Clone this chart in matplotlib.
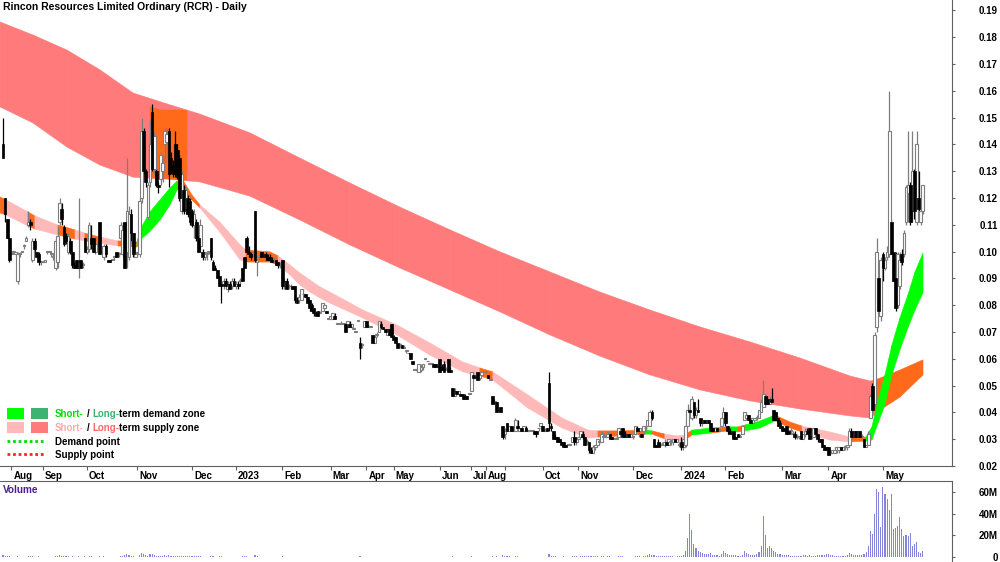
import numpy as np
import matplotlib
matplotlib.use("Agg")
import matplotlib.pyplot as plt
from matplotlib.patches import Rectangle, Polygon
from matplotlib.lines import Line2D
import matplotlib.transforms as mtransforms

# ---------------- data (prices in units of 0.001 AUD) ----------------
open_ = [
 140,120,112,105,99,100,99,89,99,100, 102,104,110,111,97,104,100,99,96,96,
 96,100,100,99,98,94,96,111,116,109, 106,100,104,100,95,97,94,97,95,105,
 100,101,105,105,100,103,111,100,98,102, 97,97,97,98,100,99,105,99,111,100,
 98,114,107,98,99,99,120,145,130,113, 126,152,131,130,125,127,130,140,141,145,
 135,132,140,138,135,115,123,116,120,119, 115,110,111,105,102,100,98,99,100,105,
 96,94,93,91,88,88,89,86,88,87, 89,87,88,89,94,98,105,100,99,99,
 115,96,98,100,99,99,98,98,97,97, 97,96,95,97,87,89,87,87,87,87,
 82,82,82,84,84,83,82,80,79,77, 78,77,78,79,78,75,75,75,76,73,
 73,73,73,73,72,73,72,71,70,74, 66,65,72,74,72,72,69,66,69,70,
 73,72,71,69,71,73,68,68,66,65, 65,64,63,62,62,59,56,56,55,56,
 57,60,59,58,58,58,58,57,60,57, 58,56,60,56,49,46,48,47,47,47,
 46,46,47,48,54,53,55,53,54,55, 55,54,52,46,44,44,41,42,35,32,
 36,33,35,33,33,35,33,34,33,34, 33,33,33,33,33,34,35,35,33,34,
 51,35,33,31,31,30,29,29,28,28, 28,29,31,29,30,31,32,31,29,29,
 26,25,27,28,29,29,31,31,31,32, 31,30,30,31,33,34,32,31,32,31,
 31,32,34,33,32,33,34,35,35,40, 30,28,29,28,28,28,29,28,29,29,
 30,29,28,29,27,28,35,41,38,44, 39,41,38,36,37,36,37,36,34,33,
 34,33,35,38,40,35,33,32,33,31, 32,31,32,37,38,39,37,36,37,38,
 38,40,42,46,45,43,45,41,40,38, 36,35,34,35,33,33,32,32,31,31,
 33,30,32,33,34,31,31,34,32,30, 30,28,27,27,25,25,25,26,26,27,
 26,27,27,28,33,31,33,31,33,31, 30,27,28,38,50,43,72,90,76,99,
 94,98,99,111,100,90,80,87,99,99, 111,122,125,115,130,111,120,111,115]
high = [
 150,120,112,105,99,100,100,100,100,100, 103,106,115,112,105,105,100,100,96,96,
 97,100,100,100,99,105,109,120,118,110, 107,107,105,100,96,97,120,97,96,105,
 102,111,110,105,104,104,111,101,103,103, 97,97,97,98,100,100,111,111,111,135,
 117,116,107,100,100,120,150,146,131,126, 149,155,145,131,126,137,136,146,146,146,
 137,134,145,140,136,130,125,124,121,120, 116,116,112,106,112,101,100,100,100,105,
 97,95,93,91,88,90,90,89,89,90, 90,89,89,90,94,98,106,102,100,100,
 115,97,99,100,100,100,99,99,98,98, 97,96,96,97,90,90,88,88,87,87,
 83,84,86,86,84,83,82,81,79,78, 78,78,81,81,78,75,76,77,77,73,
 73,74,73,73,74,74,73,71,70,74, 68,66,74,74,73,72,69,69,70,74,
 74,72,71,71,71,73,69,68,66,66, 65,65,63,62,62,59,56,56,58,58,
 58,60,59,58,58,58,58,57,60,58, 59,57,60,57,49,49,48,48,47,47,
 47,46,47,55,55,54,55,55,55,55, 55,54,52,46,45,44,42,42,35,34,
 36,35,35,34,38,37,34,34,35,35, 33,33,33,33,33,34,36,35,34,34,
 55,36,33,32,31,30,29,29,28,28, 28,31,33,31,31,33,33,31,30,29,
 27,28,28,30,30,33,32,31,33,32, 31,30,31,34,34,34,33,32,32,32,
 31,35,35,34,32,35,35,37,41,41, 30,28,30,29,29,30,30,30,30,30,
 30,30,29,31,30,37,43,42,46,44, 42,45,38,37,37,37,37,36,34,34,
 34,34,38,42,40,35,34,33,33,31, 32,32,35,40,40,39,38,38,38,39,
 41,45,52,47,46,46,49,41,40,38, 37,35,34,35,33,34,33,33,32,31,
 33,32,34,34,34,32,34,34,32,30, 30,28,27,27,26,26,27,27,27,27,
 27,28,28,34,34,33,33,33,33,32, 30,28,33,47,51,70,105,92,98,100,
 98,102,160,112,100,100,100,100,101,108, 125,145,126,145,131,145,130,115,125]
low = [
 135,111,105,96,99,99,99,88,98,100, 101,104,109,108,96,100,98,95,95,96,
 96,99,100,98,97,93,94,110,110,102, 103,99,99,94,94,94,90,94,94,100,
 99,100,101,100,99,102,99,99,97,98, 96,96,97,97,98,98,104,98,94,94,
 97,104,98,98,98,98,118,129,124,112, 124,130,129,124,122,125,126,133,135,124,
 129,128,128,127,119,114,114,114,113,110, 109,105,104,100,100,97,97,97,99,97,
 93,93,90,87,81,86,87,85,86,86, 87,86,86,87,89,94,100,98,97,98,
 96,91,97,98,98,97,97,97,96,96, 95,94,94,86,86,86,86,86,86,81,
 81,81,82,83,83,81,78,78,76,76, 76,77,78,78,77,75,75,75,75,73,
 73,73,73,70,72,72,72,71,70,74, 60,64,72,72,72,72,66,66,68,70,
 71,71,70,69,69,68,67,66,64,64, 64,64,62,62,60,58,56,55,55,55,
 56,60,59,58,58,57,57,57,55,56, 55,56,55,55,46,46,47,47,46,45,
 45,45,47,48,52,53,52,52,54,55, 55,53,52,43,43,40,40,40,30,30,
 33,33,33,33,33,33,33,33,33,33, 33,33,33,32,31,33,35,33,33,33,
 33,33,30,30,29,29,28,27,27,28, 28,29,28,28,30,31,30,28,28,25,
 25,25,26,28,28,29,31,31,31,30, 30,30,30,31,31,31,31,31,31,31,
 30,32,33,31,31,32,33,35,35,37, 27,27,27,27,28,27,28,28,28,28,
 29,29,27,26,26,27,35,38,37,38, 38,40,35,35,36,36,36,33,33,33,
 33,33,35,38,35,32,32,31,30,30, 31,31,32,37,38,37,36,36,37,37,
 38,40,42,42,43,43,44,37,37,35, 34,33,33,32,32,32,32,30,30,30,
 30,30,31,32,30,30,31,32,29,29, 27,26,26,24,24,25,25,25,25,26,
 26,26,26,28,30,31,31,31,31,31, 27,27,28,38,40,42,70,76,74,89,
 93,97,98,99,89,78,79,86,95,98, 110,111,110,111,112,110,115,110,114]
close = [
 135,114,105,97,99,100,100,99,99,100, 102,105,111,110,104,101,98,96,96,96,
 97,100,100,99,98,104,106,118,112,103, 104,106,100,95,94,94,96,94,95,100,
 101,110,103,100,103,103,99,100,102,99, 96,96,97,98,98,99,110,108,94,115,
 114,107,99,100,99,119,145,130,126,125, 140,131,143,125,124,136,133,145,144,129,
 130,129,129,128,120,129,115,123,114,111, 110,114,105,100,110,98,100,99,100,98,
 93,93,90,87,87,89,87,88,86,89, 87,88,87,89,89,94,100,99,98,99,
 97,97,98,98,99,98,97,97,96,97, 95,95,95,87,89,86,87,87,86,82,
 81,83,86,84,83,81,79,78,77,76, 76,77,81,80,77,75,76,77,75,73,
 73,73,73,70,74,72,73,71,70,74, 64,65,74,72,72,72,66,68,69,74,
 72,71,70,71,69,68,67,66,64,65, 64,64,63,62,60,58,56,56,58,57,
 58,60,59,58,58,57,57,57,55,56, 55,56,55,55,46,48,47,48,46,45,
 45,45,47,55,53,53,52,54,55,55, 55,53,52,43,44,40,41,40,31,33,
 33,35,33,34,37,34,34,33,35,33, 33,33,33,32,32,34,36,33,33,33,
 36,34,30,30,29,29,28,27,27,28, 28,31,29,30,31,33,31,28,29,26,
 25,27,28,30,29,32,31,31,32,30, 30,30,30,34,32,31,31,32,31,32,
 31,35,33,34,31,35,34,37,40,38, 27,27,27,28,28,29,28,30,29,30,
 29,30,28,27,30,35,41,40,45,39, 41,40,36,37,36,37,36,33,33,34,
 33,33,38,40,36,33,32,32,30,30, 31,31,35,40,39,37,36,38,38,38,
 41,44,47,43,43,45,44,37,37,35, 34,33,33,32,32,33,32,31,31,31,
 30,32,33,32,30,31,34,32,30,29, 27,26,26,24,25,26,26,27,27,26,
 27,27,28,33,31,33,31,33,31,31, 27,28,32,46,41,69,100,78,97,94,
 97,100,145,99,89,79,99,97,96,107, 124,125,111,130,115,140,116,115,125]
volume_m = [
 1.5,1.2,0.8,0.6,0.3,0.2,0.2,0.8,0.3,0.2, 0.3,0.4,0.8,0.5,0.6,0.4,0.3,0.5,0.2,0.2,
 0.2,0.3,0.2,0.3,0.2,0.9,1.0,1.5,0.8,0.6, 0.5,0.6,0.4,0.5,0.3,0.4,1.2,0.4,0.3,0.6,
 0.3,0.8,0.5,0.4,0.4,0.2,0.9,0.3,0.5,0.3, 0.2,0.2,0.1,0.2,0.3,0.2,0.8,0.9,1.5,2.5,
 2.0,1.0,0.8,0.3,0.3,2.0,3.5,2.5,1.5,1.0, 2.5,3.0,1.8,1.2,0.8,1.0,0.9,1.5,0.8,1.5,
 0.8,0.6,1.0,0.9,1.2,0.9,0.8,0.6,0.7,0.8, 0.7,0.6,0.6,0.5,0.7,0.3,0.3,0.3,0.2,0.5,
 0.5,0.3,0.4,0.5,0.6,0.3,0.3,0.3,0.2,0.3, 0.2,0.2,0.2,0.3,0.5,0.5,0.6,0.3,0.3,0.4,
 1.5,0.5,0.3,0.3,0.2,0.2,0.3,0.2,0.2,0.3, 0.2,0.2,0.2,0.6,0.4,0.3,0.2,0.2,0.2,0.4,
 0.3,0.2,0.3,0.2,0.2,0.3,0.4,0.3,0.4,0.2, 0.2,0.2,0.3,0.2,0.2,0.1,0.1,0.2,0.1,0.1,
 0.1,0.1,0.1,0.1,0.3,0.2,0.1,0.1,0.1,0.1, 0.5,0.2,0.3,0.2,0.1,0.1,0.3,0.2,0.1,0.3,
 0.2,0.1,0.1,0.2,0.2,0.3,0.2,0.2,0.2,0.2, 0.2,0.1,0.1,0.1,0.3,0.2,0.1,0.1,0.3,0.2,
 0.2,0.1,0.1,0.1,0.1,0.2,0.1,0.1,0.4,0.2, 0.3,0.1,0.3,0.2,0.6,0.3,0.2,0.2,0.2,0.3,
 0.2,0.2,0.1,0.8,0.4,0.2,0.3,0.3,0.2,0.2, 0.2,0.2,0.1,0.8,0.4,0.6,0.4,0.4,1.5,0.8,
 0.6,0.5,0.4,0.3,0.8,0.5,0.3,0.3,0.4,0.3, 0.2,0.2,0.2,0.2,0.3,0.3,0.4,0.4,0.3,0.3,
 3.0,0.8,0.8,0.5,0.4,0.4,0.4,0.5,0.3,0.2, 0.2,0.6,0.7,0.5,0.4,0.6,0.5,0.7,0.5,1.0,
 0.6,0.6,0.5,0.6,0.4,1.0,0.5,0.4,0.7,0.5, 0.4,0.3,0.3,0.8,0.6,0.6,0.4,0.4,0.3,0.3,
 0.3,0.8,0.5,0.5,0.4,0.8,0.5,1.5,3.0,2.0, 2.0,1.0,0.8,0.6,0.5,0.7,0.6,0.6,0.5,0.5,
 0.4,0.5,0.5,1.0,1.5,6.0,18,40,25,12, 8,6,5,4,3,2.5,3,4,2,1.5,
 1.5,1.2,3,6,4,3,2,1.5,2,1.5, 1.2,1.0,2,6,4,3,2,1.5,2,3,
 5,10,38,20,8,10,8,6,5,3, 3,2,2,2,1.5,1.2,1,1,1,1,
 1,1.5,1.5,1.2,1.5,1,1.2,1,1.5,1.5, 2,2,2.5,3,2,1.5,1.2,1,1,1,
 1,1,1.5,4,3,2,1.5,1.5,2,2, 3,5,10,24,21,40,63,60,28,65,
 58,54,43,58,26,27,29,37,26,19, 20,19,22,10,12,14,5,4,6]

# long-term band (day index, upper, lower in 0.001 units) and state per segment
lt_idx = [-1.4, 14.3, 30.5, 46.2, 61.9, 78.1, 93.8, 117.6, 141.4, 165.2, 189.0, 212.9,
          236.7, 260.5, 284.3, 308.1, 331.9, 355.7, 379.5, 403.3, 412.9, 415.2, 419.0, 427.1, 438.1]
lt_upper = [185.7, 180.8, 175.2, 167.8, 159.2, 155.1, 151.3, 144.3, 134.9, 125.6, 116.6, 108.1,
            99.9, 92.4, 84.9, 78.2, 71.9, 66.3, 60.3, 53.6, 51.7, 52.1, 53.2, 55.8, 59.6]
lt_lower = [154.0, 148.0, 139.0, 132.3, 127.8, 127.1, 126.0, 120.7, 111.8, 102.5, 93.9, 85.7,
            77.5, 68.9, 61.0, 54.0, 48.4, 44.3, 41.3, 38.7, 37.9, 39.0, 41.6, 45.7, 54.0]
lt_state = "SSSSSSSSSSSSSSSSSSSSSNNNN"

# short-term band
st_idx = [-1.4, 1.4, 11.9, 15.2, 26.2, 34.3, 39.0, 46.2, 54.8, 63.8, 65.2, 70.0, 74.8, 79.5,
          82.9, 85.7, 90.0, 93.8, 103.3, 112.9, 115.7, 122.4, 127.1, 131.0, 136.7, 141.4, 146.2,
          151.0, 155.7, 171.4, 187.6, 203.3, 219.0, 227.1, 233.3, 250.0, 266.2, 278.6, 283.3,
          293.8, 306.2, 309.0, 315.2, 321.4, 324.8, 328.1, 337.6, 345.2, 350.0, 353.3, 360.5,
          367.6, 374.8, 380.5, 393.8, 403.3, 410.9, 413.8, 416.7, 420.0, 423.3, 427.1, 430.9,
          434.3, 438.1]
st_upper = [120.4, 119.3, 114.8, 113.3, 109.9, 108.1, 106.9, 105.4, 104.0, 103.6, 108.1, 114.8,
            119.3, 123.7, 126.3, 126.7, 121.1, 117.4, 111.0, 102.5, 100.6, 100.2, 99.9, 98.4,
            95.0, 92.0, 89.4, 86.8, 84.9, 78.2, 72.6, 65.9, 58.8, 56.6, 55.1, 46.5, 37.9, 33.4,
            33.1, 33.1, 33.4, 33.1, 31.9, 31.2, 31.6, 33.4, 34.2, 34.6, 34.6, 35.3, 36.8, 39.0,
            36.4, 34.9, 32.7, 30.8, 30.8, 34.6, 44.6, 54.0, 65.1, 75.2, 83.8, 92.4, 99.5]
st_lower = [114.4, 113.7, 109.6, 108.4, 106.2, 104.7, 104.0, 103.2, 102.1, 101.7, 104.3, 107.6,
            111.8, 117.4, 123.0, 123.0, 119.3, 116.3, 107.3, 96.9, 96.1, 96.1, 96.1, 95.0, 91.3,
            87.5, 84.9, 82.7, 80.8, 75.2, 68.9, 61.4, 55.1, 53.6, 52.1, 41.6, 34.2, 30.4, 30.8,
            31.2, 31.9, 31.9, 30.1, 29.0, 29.7, 31.6, 32.3, 33.1, 32.7, 33.1, 34.2, 36.8, 34.2,
            32.7, 29.7, 29.0, 29.3, 29.7, 36.0, 42.8, 54.0, 63.3, 71.5, 78.2, 84.6]
st_state = "NSNSNSNSND" "DDDDNNNSSS" "NNNSSSSSSS" "SSSNSSSSNN" "DNSSNDNDND" "DNNSSNDDDD" "DDDDD"

# neutral block inside the long-term band (Nov 2022)
ob_idx = [70.0, 74.8, 87.6]
ob_upper = [154.0, 152.8, 152.8]
ob_lower = [127.5, 127.3, 126.7]

month_pos = [4, 19, 40, 64, 90, 111, 133, 156, 173, 186, 208, 223, 230, 239, 257, 274, 300,
             323, 344, 371, 393, 419]
month_lbl = ['Aug', 'Sep', 'Oct', 'Nov', 'Dec', '2023', 'Feb', 'Mar', 'Apr', 'May', 'Jun',
             'Jul', 'Aug', '', 'Oct', 'Nov', 'Dec', '2024', 'Feb', 'Mar', 'Apr', 'May']

price_ticks = [0.02, 0.03, 0.04, 0.05, 0.06, 0.07, 0.08, 0.09, 0.10, 0.11, 0.12, 0.13, 0.14,
               0.15, 0.16, 0.17, 0.18, 0.19]
vol_ticks = [0, 20, 40, 60]
vol_labels = ['0', '20M', '40M', '60M']

title = "Rincon Resources Limited Ordinary (RCR) - Daily"

# ---------------- styling ----------------
plt.rcParams['font.family'] = ['Liberation Sans', 'DejaVu Sans']
W, H = 1000, 562
PX_PER_DAY = 2.1
RED_LT = '#FF7B7B'
PINK_ST = '#FFB9B9'
GREEN_ST = '#00FF00'
GREEN_LT = '#3CB371'
ORANGE = '#FF6A1A'
AXC = '#606060'
UPC = '#7d7d7d'

fig = plt.figure(figsize=(10, 5.62), dpi=100)
fig.patch.set_facecolor('white')

def fx(px):
    return px / W

def fy(py):
    return 1 - py / H

ax = fig.add_axes([0, fy(466), fx(952), 466 / H])
axv = fig.add_axes([0, 0, fx(952), 81 / H])

xmin = -3 / PX_PER_DAY
xmax = xmin + 952 / PX_PER_DAY
ax.set_xlim(xmin, xmax)
ax.set_ylim(0.02, 0.02 + 466 / 2680)
axv.set_xlim(xmin, xmax)
axv.set_ylim(-4.6, 70.2)

o = np.array(open_) * 1e-3
h = np.array(high) * 1e-3
l = np.array(low) * 1e-3
c = np.array(close) * 1e-3
vol = np.array(volume_m)
idx = np.arange(len(c))

# ---- bands ----
def draw_band(xs, up, lo, states, colors, z):
    up = np.array(up) * 1e-3
    lo = np.array(lo) * 1e-3
    for k in range(len(xs) - 1):
        col = colors[states[k]]
        pts = [(xs[k], up[k]), (xs[k + 1], up[k + 1]), (xs[k + 1], lo[k + 1]), (xs[k], lo[k])]
        ax.add_patch(Polygon(pts, closed=True, facecolor=col, edgecolor=col, lw=0.4, zorder=z))

draw_band(lt_idx, lt_upper, lt_lower, lt_state, {'S': RED_LT, 'N': ORANGE}, 1)
draw_band(ob_idx, ob_upper, ob_lower, "NNN", {'N': ORANGE}, 1.5)
draw_band(st_idx, st_upper, st_lower, st_state, {'S': PINK_ST, 'N': ORANGE, 'D': GREEN_ST}, 2)

# ---- candles ----
up = c >= o
body_lo = np.minimum(o, c)
body_h = np.maximum(np.abs(c - o), 0.00035)
ax.vlines(idx[up], l[up], h[up], color=UPC, lw=0.9, zorder=3)
ax.vlines(idx[~up], l[~up], h[~up], color='black', lw=0.9, zorder=3)
ax.bar(idx[up], body_h[up], bottom=body_lo[up], width=1.25, facecolor='white',
       edgecolor=UPC, linewidth=0.8, zorder=4)
ax.bar(idx[~up], body_h[~up], bottom=body_lo[~up], width=1.25, facecolor='black',
       edgecolor='black', linewidth=0.5, zorder=4)

# ---- volume ----
axv.bar(idx, vol, width=0.55, color='#8484D8', linewidth=0, zorder=2)

# ---- axes styling ----
for a in (ax, axv):
    a.set_facecolor('none')
    a.spines['left'].set_visible(False)
    a.spines['right'].set_color(AXC)
    a.yaxis.tick_right()
ax.spines['top'].set_visible(False)
ax.spines['bottom'].set_color(AXC)
axv.spines['bottom'].set_visible(False)
axv.spines['top'].set_color(AXC)

ax.set_yticks(price_ticks)
ax.set_yticklabels([f"{v:.2f}" for v in price_ticks])
ax.tick_params(axis='y', direction='out', length=2, pad=31, labelsize=7, colors='black',
               color=AXC)
for lab in ax.get_yticklabels():
    lab.set_ha('right')
    lab.set_fontweight('bold')

axv.set_yticks(vol_ticks)
axv.set_yticklabels(vol_labels)
axv.tick_params(axis='y', direction='out', length=2, pad=31, labelsize=7, colors='black',
                color=AXC)
for lab in axv.get_yticklabels():
    lab.set_ha('right')
    lab.set_fontweight('bold')
axv.set_xticks([])

ax.set_xticks(month_pos)
ax.set_xticklabels(month_lbl)
ax.tick_params(axis='x', direction='out', length=3, pad=0.5, labelsize=7, color=AXC)
offset = mtransforms.ScaledTranslation(2 / 100, 0, fig.dpi_scale_trans)
for lab in ax.get_xticklabels():
    lab.set_ha('left')
    lab.set_fontweight('bold')
    lab.set_transform(lab.get_transform() + offset)

# ---- title and labels ----
fig.text(fx(3), fy(7), title, fontsize=7.5, fontweight='bold', va='center', ha='left')
fig.text(fx(3), fy(490), 'Volume', fontsize=7.2, fontweight='bold', color='#4B1F8F',
         va='center', ha='left')

# ---- legend ----
fig.add_artist(Rectangle((fx(7), fy(419)), fx(17), 11 / H, transform=fig.transFigure,
                         facecolor=GREEN_ST, edgecolor='none'))
fig.add_artist(Rectangle((fx(31), fy(419)), fx(17), 11 / H, transform=fig.transFigure,
                         facecolor=GREEN_LT, edgecolor='none'))
fig.add_artist(Rectangle((fx(7), fy(433)), fx(17), 11 / H, transform=fig.transFigure,
                         facecolor=PINK_ST, edgecolor='none'))
fig.add_artist(Rectangle((fx(31), fy(433)), fx(17), 11 / H, transform=fig.transFigure,
                         facecolor=RED_LT, edgecolor='none'))
fig.add_artist(Line2D([fx(7), fx(45)], [fy(441), fy(441)], transform=fig.transFigure,
                      color='#00DD00', lw=2, linestyle=(0, (1, 1))))
fig.add_artist(Line2D([fx(7), fx(45)], [fy(454), fy(454)], transform=fig.transFigure,
                      color='#FF2020', lw=2, linestyle=(0, (1, 1))))

fig.canvas.draw()
renderer = fig.canvas.get_renderer()

def multicolor(x_px, base_px, pieces):
    x = x_px
    for s, col, gap in pieces:
        t = fig.text(fx(x), fy(base_px), s, color=col, fontsize=7, fontweight='bold',
                     va='baseline', ha='left')
        bb = t.get_window_extent(renderer=renderer)
        x += bb.width + gap

multicolor(55, 417, [("Short-", '#00E000', 3), ("/", 'black', 3), ("Long-", GREEN_LT, 0),
                     ("term demand zone", 'black', 0)])
multicolor(55, 431, [("Short-", '#FFAAAA', 3), ("/", 'black', 3), ("Long-", '#FF6666', 0),
                     ("term supply zone", 'black', 0)])
fig.text(fx(55), fy(445), "Demand point", fontsize=7, fontweight='bold', va='baseline')
fig.text(fx(55), fy(458), "Supply point", fontsize=7, fontweight='bold', va='baseline')

fig.savefig('out.png', dpi=100, facecolor='white')
